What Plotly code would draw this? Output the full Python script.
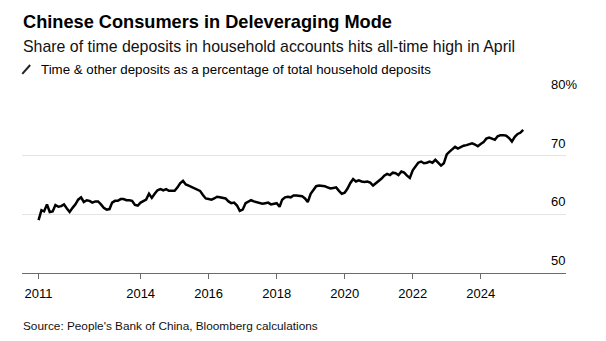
import pandas as pd
import plotly.graph_objects as go

# Monthly data, Jan 2011 .. Apr 2025 (time & other deposits, % of household deposits)
start_month = "2011-01-01"
end_month = "2025-04-01"
share = [
    59.0, 60.7, 60.5, 61.7, 60.4, 60.5, 61.6, 61.3, 61.4, 61.7, 61.0, 60.4,
    61.1, 61.7, 62.5, 62.9, 62.1, 62.4, 62.3, 62.0, 62.2, 62.2, 61.7, 61.1,
    60.8, 60.9, 62.0, 62.3, 62.3, 62.6, 62.6, 62.4, 62.4, 62.3, 61.6, 61.5,
    62.0, 62.2, 62.5, 63.5, 62.8, 63.5, 64.1, 64.3, 64.1, 64.3, 64.0, 64.0,
    64.0, 64.6, 65.3, 65.7, 65.1, 64.9, 64.7, 64.5, 64.3, 64.0, 63.3, 62.7,
    62.6, 62.5, 62.7, 63.0, 62.9, 62.8, 62.7, 62.2, 61.9, 62.0, 61.5, 60.6,
    60.8, 61.9, 62.1, 62.4, 62.2, 62.1, 62.0, 61.8, 61.9, 62.0, 61.7, 61.8,
    61.9, 61.3, 62.5, 62.9, 63.0, 62.9, 63.2, 63.2, 63.2, 63.1, 62.7, 62.1,
    63.5, 64.1, 64.8, 64.9, 64.9, 64.8, 64.6, 64.4, 64.5, 64.6, 64.0, 63.5,
    63.7, 64.4, 65.3, 66.0, 65.6, 65.8, 65.6, 65.5, 65.6, 65.4, 64.9, 65.3,
    65.6, 66.1, 66.6, 66.9, 66.7, 67.1, 67.0, 66.7, 67.3, 67.1, 66.6, 66.2,
    67.5, 68.3, 68.8, 69.0, 68.7, 68.8, 69.0, 68.8, 69.3, 68.8, 68.3, 68.7,
    70.2, 70.7, 71.1, 71.5, 71.2, 71.5, 71.7, 71.8, 71.9, 72.1, 71.9, 71.6,
    72.0, 72.3, 72.9, 73.1, 72.9, 72.7, 73.3, 73.5, 73.5, 73.4, 73.0, 72.4,
    73.2, 73.7, 73.9, 74.4,
]
months = pd.date_range(start_month, end_month, freq="MS")

x_tick_vals = ["2011-01-01", "2014-01-01", "2016-01-01", "2018-01-01",
               "2020-01-01", "2022-01-01", "2024-01-01"]
x_tick_text = ["2011", "2014", "2016", "2018", "2020", "2022", "2024"]
x_range = ["2010-07-07", "2026-07-05"]

y_tick_vals = [50, 60, 70, 80]
y_tick_text = ["50", "60", "70", "80%"]
y_range = [50, 80]

title = "Chinese Consumers in Deleveraging Mode"
subtitle = "Share of time deposits in household accounts hits all-time high in April"
legend_label = "Time & other deposits as a percentage of total household deposits"
source = "Source: People's Bank of China, Bloomberg calculations"

FONT = "Liberation Sans, Arial, Helvetica, sans-serif"

fig = go.Figure()
fig.add_trace(go.Scatter(
    x=months, y=share, mode="lines",
    line=dict(color="#000000", width=2.5),
    hoverinfo="skip", showlegend=False,
))

fig.update_layout(
    width=606, height=341,
    margin=dict(l=22, r=40, t=97, b=68, pad=0),
    paper_bgcolor="white", plot_bgcolor="white",
    font=dict(family=FONT, size=13, color="#000000"),
    showlegend=False,
    xaxis=dict(
        type="date", range=x_range,
        tickmode="array", tickvals=x_tick_vals, ticktext=x_tick_text,
        showgrid=False, zeroline=False,
        showline=True, linecolor="#6b6b6b", linewidth=1,
        ticks="outside", ticklen=5, tickwidth=1, tickcolor="#6b6b6b",
        tickfont=dict(family=FONT, size=13, color="#000000"),
        ticklabelstandoff=3,
    ),
    yaxis=dict(
        range=y_range, tickmode="array", tickvals=y_tick_vals,
        showticklabels=False, showgrid=True, gridcolor="#e4e4e4", gridwidth=1,
        zeroline=False, showline=False, ticks="",
    ),
)

# y-axis labels, sitting above gridlines at the right end
for v, t in zip(y_tick_vals, y_tick_text):
    if t.endswith("%"):
        fig.add_annotation(x=1, xref="paper", y=v, yref="y", text=t,
                           showarrow=False, xanchor="left", yanchor="bottom",
                           xshift=-17, yshift=3,
                           font=dict(family=FONT, size=13, color="#000000"))
    else:
        fig.add_annotation(x=1, xref="paper", y=v, yref="y", text=t,
                           showarrow=False, xanchor="right", yanchor="bottom",
                           xshift=1, yshift=3,
                           font=dict(family=FONT, size=13, color="#000000"))

fig.add_annotation(x=0, xref="paper", y=1.426, yref="paper", text="<b>" + title + "</b>",
                   showarrow=False, xanchor="left", yanchor="middle", xshift=-1,
                   font=dict(family=FONT, size=18.2, color="#000000"))
fig.add_annotation(x=0, xref="paper", y=1.289, yref="paper", text=subtitle,
                   showarrow=False, xanchor="left", yanchor="middle", xshift=-1,
                   font=dict(family=FONT, size=15.9, color="#111111"))
fig.add_annotation(x=0.0331, xref="paper", y=1.156, yref="paper", text=legend_label,
                   showarrow=False, xanchor="left", yanchor="middle", xshift=-1,
                   font=dict(family=FONT, size=13.3, color="#000000"))
fig.add_annotation(x=0, xref="paper", y=-0.301, yref="paper", text=source,
                   showarrow=False, xanchor="left", yanchor="middle", xshift=-1,
                   font=dict(family=FONT, size=11.8, color="#111111"))

# legend swatch (slanted line)
fig.add_shape(type="line", xref="paper", yref="paper",
              x0=0.0005, y0=1.131, x1=0.0150, y1=1.182,
              line=dict(color="#222222", width=2.0))

fig.write_html("out.html")
